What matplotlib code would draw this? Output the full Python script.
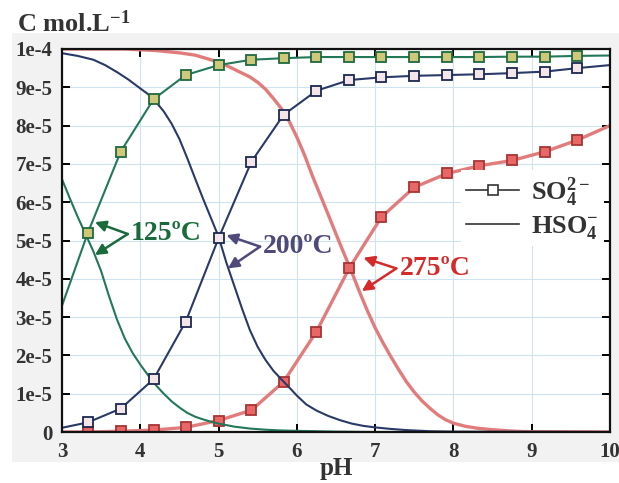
import matplotlib
matplotlib.use("Agg")
import matplotlib.pyplot as plt
from matplotlib.patches import Rectangle
from matplotlib.lines import Line2D
import numpy as np

plt.rcParams['font.family'] = ['Liberation Serif', 'DejaVu Serif']
plt.rcParams['font.weight'] = 'bold'
plt.rcParams['mathtext.fontset'] = 'custom'
plt.rcParams['mathtext.rm'] = 'Liberation Serif:bold'
plt.rcParams['mathtext.it'] = 'Liberation Serif:bold:italic'
plt.rcParams['mathtext.bf'] = 'Liberation Serif:bold'

# ---- data (concentrations in units of 1e-5 mol/L) ----
so4_ph = [3.0, 3.33, 3.75, 4.17, 4.58, 5.0, 5.42, 5.83, 6.25, 6.67, 7.08, 7.5,
          7.92, 8.33, 8.75, 9.17, 9.58, 10.0]
so4_125 = [3.3, 5.2, 7.32, 8.69, 9.32, 9.58, 9.72, 9.76, 9.79, 9.79, 9.79, 9.79,
           9.79, 9.79, 9.80, 9.80, 9.82, 9.83]
so4_200 = [0.11, 0.25, 0.61, 1.38, 2.88, 5.06, 7.06, 8.28, 8.91, 9.19, 9.26, 9.30,
           9.32, 9.34, 9.37, 9.41, 9.50, 9.58]
so4_275 = [0.0, 0.0, 0.02, 0.05, 0.12, 0.30, 0.57, 1.31, 2.62, 4.28, 5.61, 6.39,
           6.75, 6.95, 7.09, 7.32, 7.62, 8.0]

hso4_125_ph = [3.0, 3.1, 3.2, 3.3, 3.4, 3.5, 3.6, 3.7, 3.8, 3.9, 4.0, 4.1, 4.2,
               4.3, 4.4, 4.5, 4.6, 4.7, 4.8, 4.9, 5.0, 5.2, 5.4, 5.6, 5.8, 6.0,
               6.5, 7.0, 10.0]
hso4_125 = [6.6, 6.1, 5.62, 5.17, 4.72, 4.2, 3.55, 2.95, 2.45, 2.07, 1.76, 1.48,
            1.22, 1.0, 0.80, 0.64, 0.50, 0.40, 0.33, 0.27, 0.22, 0.14, 0.09,
            0.06, 0.04, 0.03, 0.01, 0.0, 0.0]

hso4_200_ph = [3.0, 3.2, 3.4, 3.55, 3.7, 3.85, 4.0, 4.1, 4.2, 4.3, 4.4, 4.5, 4.6,
               4.7, 4.8, 4.9, 5.0, 5.1, 5.2, 5.3, 5.4, 5.5, 5.6, 5.7, 5.8, 5.9,
               6.0, 6.12, 6.25, 6.4, 6.55, 6.7, 6.85, 7.0, 7.2, 7.4, 7.7, 8.0,
               10.0]
hso4_200 = [9.89, 9.82, 9.72, 9.58, 9.40, 9.20, 8.97, 8.82, 8.62, 8.37, 8.05,
            7.65, 7.15, 6.62, 6.10, 5.60, 5.10, 4.42, 3.82, 3.22, 2.66, 2.22,
            1.88, 1.60, 1.38, 1.17, 0.95, 0.72, 0.56, 0.42, 0.31, 0.22, 0.16,
            0.12, 0.08, 0.05, 0.02, 0.01, 0.0]

hso4_275_ph = [3.0, 3.8, 4.2, 4.5, 4.7, 4.9, 5.03, 5.15, 5.3, 5.4, 5.5, 5.6,
               5.7, 5.8, 5.9, 6.0, 6.1, 6.2, 6.3, 6.4, 6.5, 6.6, 6.7, 6.8, 6.9,
               7.0, 7.1, 7.2, 7.3, 7.4, 7.5, 7.6, 7.7, 7.8, 7.9, 8.0, 8.15, 8.3,
               8.5, 8.7, 8.9, 10.0]
hso4_275 = [10.0, 10.0, 9.96, 9.9, 9.84, 9.72, 9.63, 9.52, 9.37, 9.27, 9.13,
            8.95, 8.71, 8.45, 8.12, 7.70, 7.22, 6.68, 6.18, 5.68, 5.17, 4.67,
            4.18, 3.66, 3.17, 2.72, 2.33, 1.97, 1.63, 1.31, 1.04, 0.81, 0.62,
            0.45, 0.32, 0.23, 0.15, 0.10, 0.06, 0.03, 0.01, 0.0]

x_ticks = [3, 4, 5, 6, 7, 8, 9, 10]
y_ticks = [0, 1, 2, 3, 4, 5, 6, 7, 8, 9, 10]
y_labels = ['0', '1e-5', '2e-5', '3e-5', '4e-5', '5e-5', '6e-5', '7e-5',
            '8e-5', '9e-5', '1e-4']

scale = 1e-5
W, H = 619, 483
fig = plt.figure(figsize=(W / 100, H / 100), dpi=100)
fig.patch.set_facecolor('white')
bg = fig.add_axes([12 / W, 1 - 462 / H, (W - 12) / W, (462 - 33) / H], zorder=-10)
bg.set_facecolor('#f3f2f2')
bg.set_axis_off()
bg.add_patch(Rectangle((0, 0), 1, 1, transform=bg.transAxes,
                       facecolor='#f3f2f2', edgecolor='none'))

ax = fig.add_axes([62 / W, 1 - 432 / H, 548 / W, 383 / H], zorder=1)
ax.set_facecolor('white')

green, blue, red = '#23785a', '#2a3a68', '#e27c7c'
so4_ph_a = np.array(so4_ph)

def plot_so4(vals, color, mec, mfc, lw=1.5, z=3):
    ax.plot(so4_ph_a, np.array(vals) * scale, color=color, lw=lw, zorder=z,
            marker='s', markersize=6.5, markeredgewidth=1.3,
            markeredgecolor=mec, markerfacecolor=mfc,
            markevery=list(range(1, len(vals) - 1)))

# HSO4- lines
ax.plot(hso4_275_ph, np.array(hso4_275) * scale, color=red, lw=2.4, zorder=2)
ax.plot(hso4_200_ph, np.array(hso4_200) * scale, color=blue, lw=1.5, zorder=3)
ax.plot(hso4_125_ph, np.array(hso4_125) * scale, color=green, lw=1.5, zorder=3)
# SO4 2- lines
plot_so4(so4_275, red, '#a83434', '#e86868', lw=2.4, z=2)
plot_so4(so4_200, blue, '#1c2850', '#f4e6e8')
plot_so4(so4_125, green, '#1e6a3e', '#cfc77a')

ax.set_xlim(3, 10)
ax.set_ylim(0, 10 * scale)
ax.set_xticks(x_ticks)
ax.set_xticklabels([str(t) for t in x_ticks])
ax.set_yticks([v * scale for v in y_ticks])
ax.set_yticklabels(y_labels)
ax.grid(True, color='#cfe2ef', lw=0.8)
ax.set_axisbelow(True)
ax.tick_params(direction='in', length=6, width=1.4, top=True, right=True,
               labelsize=15, pad=7, color='black')
for lab in ax.get_xticklabels() + ax.get_yticklabels():
    lab.set_fontweight('bold')
    lab.set_color('#333333')
for sp in ax.spines.values():
    sp.set_linewidth(1.6)
    sp.set_color('#111111')
    sp.set_zorder(5)

# legend
handles = [Line2D([], [], color='#333333', lw=1.2, marker='s', markersize=6.5,
                  markerfacecolor='white', markeredgecolor='#333333',
                  markeredgewidth=1.2),
           Line2D([], [], color='#333333', lw=1.2)]
leg = ax.legend(handles, ['SO$_4^{2-}$', 'HSO$_4^{-}$'], loc='upper left',
                bbox_to_anchor=(448 / W, 1 - 157 / H),
                bbox_transform=fig.transFigure, frameon=True, framealpha=1,
                facecolor='white', edgecolor='none', fancybox=False,
                prop={'family': 'Liberation Serif', 'weight': 'bold', 'size': 19},
                handlelength=2.0, handletextpad=0.45, labelspacing=0.2,
                borderpad=0.2)
for t in leg.get_texts():
    t.set_color('#333333')

# annotations
def label(text, color, tail, heads, txt_xy):
    for h in heads:
        ax.annotate('', xy=(h[0], h[1] * scale), xytext=(tail[0], tail[1] * scale),
                    arrowprops=dict(arrowstyle='-|>', color=color, lw=1.8,
                                    mutation_scale=16, shrinkA=0, shrinkB=0),
                    zorder=6)
    ax.text(txt_xy[0], txt_xy[1] * scale, text, color=color, fontsize=20,
            fontweight='bold', va='center', ha='left', zorder=6)

label('125ºC', '#1a6b3c', (3.84, 5.17), [(3.42, 5.48), (3.42, 4.62)], (3.88, 5.17))
label('200ºC', '#4f4a7a', (5.53, 4.84), [(5.10, 5.14), (5.12, 4.27)], (5.57, 4.84))
label('275ºC', '#d42a2a', (7.27, 4.27), [(6.85, 4.55), (6.83, 3.68)], (7.31, 4.27))

fig.text(17 / W, 1 - 32 / H, 'C mol.L$^{-1}$', fontsize=19, fontweight='bold',
         color='#333333', va='baseline', ha='left')
fig.text(336 / W, 1 - 475 / H, 'pH', fontsize=18, fontweight='bold',
         color='#333333', va='baseline', ha='center')

fig.savefig('out.png', dpi=100)
